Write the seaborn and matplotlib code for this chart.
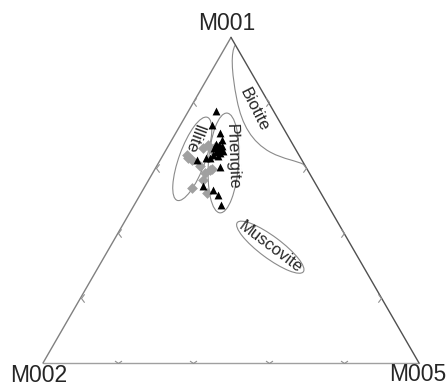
import numpy as np
import pandas as pd
import matplotlib
matplotlib.use("Agg")
import matplotlib.pyplot as plt
import seaborn as sns
from matplotlib.patches import Ellipse, PathPatch
from matplotlib.path import Path

# ---- data (ternary compositions, %) ----
corners = ["M001", "M002", "M005"]

tri_m001 = [77.5, 73.2, 70.5, 67.3, 67.0, 66.6, 66.0, 65.7, 65.4, 64.8, 64.5, 65.1,
            63.9, 63.6, 63.0, 62.3, 60.3, 54.4, 53.1, 51.6, 48.5, 63.0, 68.5]
tri_m002 = [15.3, 18.5, 17.7, 20.4, 19.7, 19.1, 21.5, 20.6, 20.0, 21.6, 20.7, 19.6,
            22.9, 21.7, 25.2, 27.9, 22.9, 30.3, 28.2, 27.7, 28.5, 24.1, 18.1]
tri_m005 = [7.2, 8.3, 11.8, 12.4, 13.3, 14.3, 12.5, 13.7, 14.6, 13.6, 14.8, 15.3,
            13.3, 14.8, 11.9, 9.8, 16.8, 15.3, 18.7, 20.7, 23.0, 12.9, 13.4]

dia_m001 = [67.0, 66.4, 66.0, 63.0, 62.3, 60.5, 59.5, 58.4, 56.2, 53.7, 52.1, 63.9, 59.3, 65.4]
dia_m002 = [22.6, 21.1, 24.4, 30.0, 29.2, 28.0, 25.4, 27.7, 29.4, 33.5, 30.4, 29.8, 26.0, 22.3]
dia_m005 = [10.4, 12.5, 9.5, 7.1, 8.5, 11.5, 15.1, 13.9, 14.5, 12.8, 17.5, 6.3, 14.7, 12.2]

tick_fracs = [0.2, 0.4, 0.6, 0.8]

S3 = np.sqrt(3) / 2


def tern_xy(a, b, c):
    a = np.asarray(a, float); b = np.asarray(b, float); c = np.asarray(c, float)
    s = a + b + c
    a, c = a / s, c / s
    return c + a / 2, a * S3


sns.set_theme(style="white")
plt.rcParams["font.family"] = ["Liberation Sans", "DejaVu Sans"]

fig = plt.figure(figsize=(4.48, 3.85), dpi=100)
ax = fig.add_axes([0, 0, 1, 1])

# triangle frame
ax.plot([0, 1], [0, 0], color="#a0a0a0", lw=1.0)
ax.plot([0, 0.5], [0, S3], color="#808080", lw=1.0)
ax.plot([0.5, 1], [S3, 0], color="#505050", lw=1.0)

# chevron ticks
v_down = Path([(-1, 0.7), (0, 0), (1, 0.7)], [Path.MOVETO, Path.LINETO, Path.LINETO])
v_left = Path([(0.75, 1), (0, 0), (0.75, -1)], [Path.MOVETO, Path.LINETO, Path.LINETO])
v_right = Path([(-0.75, 1), (0, 0), (-0.75, -1)], [Path.MOVETO, Path.LINETO, Path.LINETO])
tf = np.array(tick_fracs)
ax.plot(tf, np.zeros_like(tf), ls="none", marker=v_down, ms=5, mfc="none",
        mec="#909090", mew=0.8)
ax.plot(tf / 2, tf * S3, ls="none", marker=v_left, ms=6, mfc="none",
        mec="#909090", mew=0.8)
ax.plot(1 - tf / 2, tf * S3, ls="none", marker=v_right, ms=6, mfc="none",
        mec="#909090", mew=0.8)

# field outlines
ec = "#8a8a8a"
for (cx, cy, w, h, ang) in [(0.397, 0.543, 0.235, 0.070, 70),
                            (0.480, 0.532, 0.266, 0.080, 86),
                            (0.6045, 0.308, 0.219, 0.058, -36.6)]:
    ax.add_patch(Ellipse((cx, cy), w, h, angle=ang, fill=False, ec=ec, lw=0.8))

bio = Path([(0.511, 0.845), (0.500, 0.827), (0.500, 0.779), (0.516, 0.699),
            (0.529, 0.633), (0.556, 0.588), (0.604, 0.561),
            (0.644, 0.540), (0.670, 0.540), (0.6957, 0.527)],
           [Path.MOVETO] + [Path.CURVE4] * 9)
ax.add_patch(PathPatch(bio, fill=False, ec=ec, lw=0.8))

# points
tx, ty = tern_xy(tri_m001, tri_m002, tri_m005)
dx, dy = tern_xy(dia_m001, dia_m002, dia_m005)
df_t = pd.DataFrame({"x": tx, "y": ty})
df_d = pd.DataFrame({"x": dx, "y": dy})
sns.scatterplot(data=df_d, x="x", y="y", marker="D", color="#a0a0a0", s=30,
                linewidth=0, ax=ax, legend=False, zorder=3)
sns.scatterplot(data=df_t, x="x", y="y", marker="^", color="black", s=32,
                linewidth=0, ax=ax, legend=False, zorder=4)
ax.set_xlim(-43 / 376, 405 / 376)
ax.set_ylim(-22 / 376, 363 / 376)
ax.axis("off")

# labels
fs = 12
ax.text(0.561, 0.673, "Biotite", rotation=-63, fontsize=fs, ha="center", va="center",
        rotation_mode="anchor")
ax.text(0.504, 0.548, "Phengite", rotation=-88, fontsize=fs, ha="center", va="center",
        rotation_mode="anchor")
ax.text(0.4016, 0.5957, "Illite", rotation=-110, fontsize=fs, ha="center", va="center",
        rotation_mode="anchor")
ax.text(0.604, 0.309, "Muscovite", rotation=-37, fontsize=fs, ha="center", va="center",
        rotation_mode="anchor")

vfs = 16.5
ax.text(0.489, 0.904, corners[0], fontsize=vfs, ha="center", va="center")
ax.text(-0.0106, -0.032, corners[1], fontsize=vfs, ha="center", va="center")
ax.text(0.996, -0.031, corners[2], fontsize=vfs, ha="center", va="center")

fig.savefig("out.png", dpi=100)
